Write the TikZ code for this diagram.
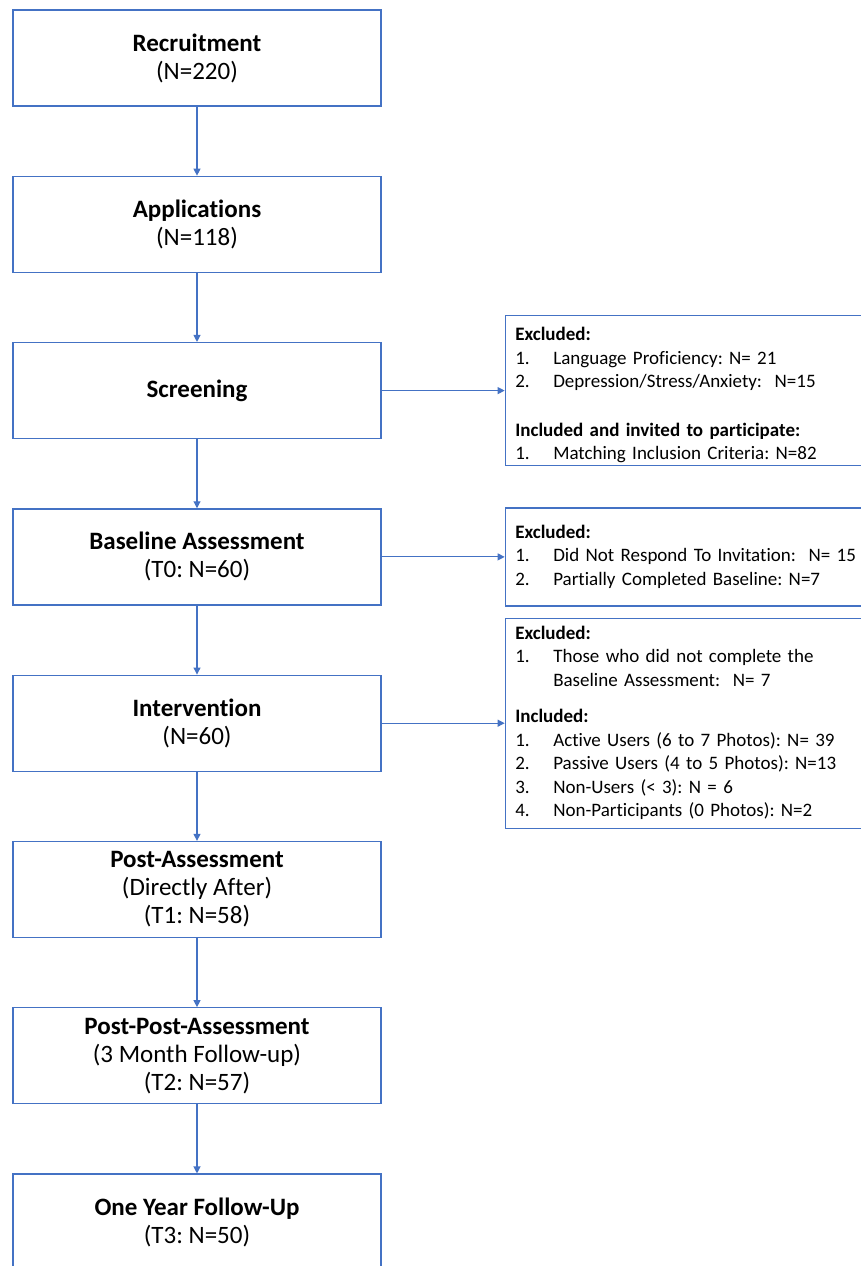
\documentclass[tikz,border=0pt]{standalone}
\usepackage{fontspec}
\setmainfont{Carlito}[Ligatures=NoCommon]
\usetikzlibrary{positioning,arrows.meta}
\definecolor{officeblue}{RGB}{68,114,196}
\newcommand{\stagefont}{\fontsize{25}{28}\selectfont}
\newcommand{\notefont}{\fontsize{19}{23.5}\selectfont}
\frenchspacing

\begin{document}
\begin{tikzpicture}[x=1pt, y=1pt,
   node distance=69pt,
   stage/.style={draw=officeblue, line width=1.3pt, minimum width=368pt,
                 minimum height=96pt, inner sep=0pt, align=center, font=\stagefont},
   note/.style={draw=officeblue, line width=1.3pt, text width=346pt,
                inner xsep=10pt, inner ysep=0pt, align=left, font=\notefont},
   flow/.style={draw=officeblue, line width=1.1pt, -{Triangle[length=7pt,width=7pt]}}]

\useasboundingbox (0,0) rectangle (861,-1266);

% main stages
\node[stage] (recruit) at (197,-58) {\textbf{Recruitment}\\(N=220)};
\node[stage, below=of recruit] (apply) {\textbf{Applications}\\(N=118)};
\node[stage, below=of apply] (screen) {\textbf{Screening}};
\node[stage, below=of screen] (baseline) {\textbf{Baseline Assessment}\\(T0: N=60)};
\node[stage, below=of baseline] (interv) {\textbf{Intervention}\\(N=60)};
\node[stage, below=of interv] (post) {\textbf{Post-Assessment}\\(Directly After)\\(T1: N=58)};
\node[stage, below=of post] (postpost) {\textbf{Post-Post-Assessment}\\(3 Month Follow-up)\\(T2: N=57)};
\node[stage, below=of postpost] (oneyear) {\textbf{One Year Follow-Up}\\(T3: N=50)};

% side notes
\node[note, minimum height=150pt, right=123pt of screen] (screenNote) {%
\raisebox{-5pt}[\height][\depth]{%
\begin{tabular}{@{}p{38pt}@{}l@{}}
\multicolumn{2}{@{}l@{}}{\textbf{Excluded:}}\\
1. & Language Proficiency: N= 21\\
2. & Depression/Stress/Anxiety:~~N=15\\[25pt]
\multicolumn{2}{@{}l@{}}{\textbf{Included and invited to participate:}}\\
1. & Matching Inclusion Criteria: N=82
\end{tabular}}};
\node[note, minimum height=98pt, right=123pt of baseline] (baselineNote) {%
\begin{tabular}{@{}p{38pt}@{}l@{}}
\multicolumn{2}{@{}l@{}}{\textbf{Excluded:}}\\
1. & Did Not Respond To Invitation:~~N= 15\\
2. & Partially Completed Baseline: N=7
\end{tabular}};
\node[note, minimum height=210pt, right=123pt of interv] (intervNote) {%
\begin{tabular}{@{}p{38pt}@{}l@{}}
\multicolumn{2}{@{}l@{}}{\textbf{Excluded:}}\\
1. & Those who did not complete the\\
   & Baseline Assessment:~~N= 7\\[13pt]
\multicolumn{2}{@{}l@{}}{\textbf{Included:}}\\
1. & Active Users (6 to 7 Photos): N= 39\\
2. & Passive Users (4 to 5 Photos): N=13\\
3. & Non-Users (< 3): N = 6\\
4. & Non-Participants (0 Photos): N=2
\end{tabular}};

% connectors
\draw[flow] (recruit) -- (apply);
\draw[flow] (apply) -- (screen);
\draw[flow] (screen) -- (baseline);
\draw[flow] (baseline) -- (interv);
\draw[flow] (interv) -- (post);
\draw[flow] (post) -- (postpost);
\draw[flow] (postpost) -- (oneyear);
\draw[flow] (screen.east) -- (screen.east -| screenNote.west);
\draw[flow] (baseline.east) -- (baseline.east -| baselineNote.west);
\draw[flow] (interv.east) -- (interv.east -| intervNote.west);

\end{tikzpicture}
\end{document}
